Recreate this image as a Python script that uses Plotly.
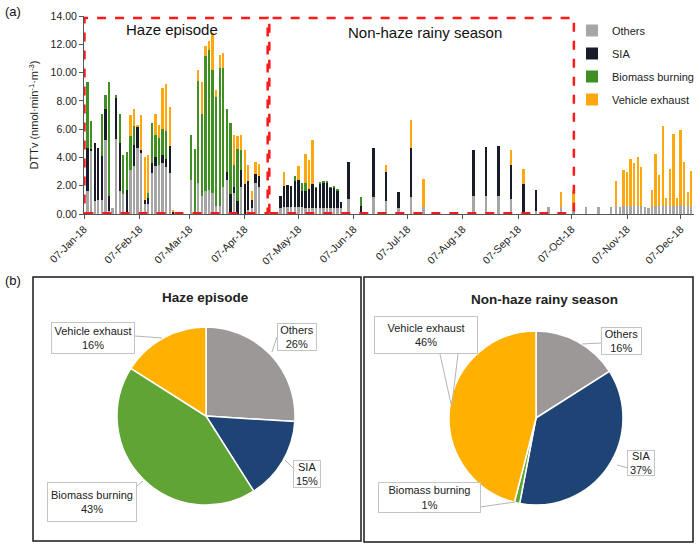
import plotly.graph_objects as go

# ---------------- data: panel (a) ----------------
dates = [
    # haze episode part 1
    "2018-01-09", "2018-01-11", "2018-01-13", "2018-01-15", "2018-01-17", "2018-01-19", "2018-01-21",
    "2018-01-23", "2018-01-25", "2018-01-27", "2018-01-29", "2018-01-31", "2018-02-02", "2018-02-04",
    "2018-02-06", "2018-02-08", "2018-02-10", "2018-02-12", "2018-02-14", "2018-02-16", "2018-02-18",
    "2018-02-20", "2018-02-22", "2018-02-24", "2018-02-26",
    # haze episode part 2
    "2018-03-08", "2018-03-10", "2018-03-12", "2018-03-14", "2018-03-16", "2018-03-18", "2018-03-20",
    "2018-03-22", "2018-03-24", "2018-03-26", "2018-03-28", "2018-03-30", "2018-04-01", "2018-04-03",
    "2018-04-05", "2018-04-07", "2018-04-09", "2018-04-11", "2018-04-13", "2018-04-15",
    # non-haze, every other day
    "2018-04-27", "2018-04-29", "2018-05-01", "2018-05-03", "2018-05-05", "2018-05-07", "2018-05-09",
    "2018-05-11", "2018-05-13", "2018-05-15", "2018-05-17", "2018-05-19", "2018-05-21", "2018-05-23",
    "2018-05-25", "2018-05-27", "2018-05-29", "2018-05-31",
    # weekly
    "2018-06-04", "2018-06-11", "2018-06-18", "2018-06-25", "2018-07-02", "2018-07-09", "2018-07-16",
    "2018-08-13", "2018-08-20", "2018-08-27", "2018-09-03", "2018-09-10", "2018-09-17", "2018-09-24",
    "2018-10-01", "2018-10-08", "2018-10-15", "2018-10-22", "2018-10-29",
    # Nov-Dec
    "2018-11-01", "2018-11-03", "2018-11-05", "2018-11-07", "2018-11-09", "2018-11-11", "2018-11-13",
    "2018-11-15", "2018-11-17", "2018-11-19", "2018-11-21", "2018-11-23", "2018-11-25", "2018-11-27",
    "2018-11-29", "2018-12-01", "2018-12-03", "2018-12-05", "2018-12-07", "2018-12-09", "2018-12-11",
    "2018-12-13",
]

others = [
    1.6, 4.5, 0.9, 1.0, 1.0, 5.2, 0.2, 0.4, 5.3, 1.6, 1.4, 0.0, 3.1, 3.4, 4.7, 4.3, 0.7, 0.7, 2.9, 3.4,
    3.5, 3.6, 3.3, 2.9, 0.0,
    2.4, 0.0, 2.2, 1.3, 1.6, 1.7, 1.5, 0.6, 0.6, 1.9, 2.4, 0.0, 1.5, 0.0, 1.9, 0.0, 0.3, 0.4, 2.2, 1.9,
    0.4, 0.5, 0.5, 0.5, 0.5, 0.5, 0.5, 0.4, 0.4, 0.4, 0.4, 0.4, 0.4, 0.4, 0.4, 0.4, 0.4, 0.4,
    1.05, 0.0, 1.2, 0.95, 0.4, 1.2, 0.5, 1.25, 1.25, 1.25, 1.05, 0.15, 0.2, 0.47, 0.47, 0.5, 0.5, 0.52,
    0.52,
    0.55, 0.47, 0.55, 0.58, 0.6, 0.6, 0.6, 0.55, 0.52, 0.45, 0.5, 0.6, 0.55, 0.62, 0.55, 0.58, 0.6,
    0.55, 0.62, 0.6, 0.55, 0.55,
]

sia = [
    3.1, 0.1, 4.1, 3.7, 3.1, 2.2, 1.1, 0.0, 2.9, 3.4, 0.0, 1.7, 0.0, 1.5, 1.5, 0.2, 0.3, 0.4, 0.7, 0.6,
    0.0, 0.6, 0.6, 1.9, 0.2,
    0.0, 0.0, 0.0, 0.0, 0.0, 0.0, 0.0, 0.0, 0.0, 0.0, 0.6, 1.4, 0.4, 0.9, 1.2, 2.1, 2.0, 0.6, 0.6, 0.8,
    0.9, 1.45, 1.55, 1.5, 1.8, 1.9, 1.15, 1.2, 1.35, 1.75, 1.45, 1.75, 1.85, 1.85, 1.45, 1.5, 1.25, 0.45,
    2.6, 0.57, 3.5, 2.05, 1.15, 3.45, 0.0, 3.25, 3.5, 3.55, 2.45, 2.0, 1.5, 0.0, 0.0, 0.0, 0.0, 0.0,
    0.0,
    0.0, 0.0, 0.0, 0.0, 0.0, 0.0, 0.0, 0.0, 0.0, 0.0, 0.0, 0.0, 0.0, 0.0, 0.0, 0.0, 0.0, 0.0, 0.0,
    0.0, 0.0, 0.0,
]

biomass = [
    4.6, 2.0, 0.0, 0.0, 3.0, 1.0, 8.0, 0.0, 0.2, 2.1, 2.8, 2.7, 2.4, 1.3, 0.0, 0.0, 0.0, 0.4, 2.8, 1.6,
    1.9, 1.8, 2.0, 0.0, 0.0,
    3.2, 4.6, 7.2, 5.8, 9.6, 9.9, 8.7, 7.7, 9.7, 8.4, 4.4, 5.0, 1.6, 3.7, 1.4, 0.0, 0.0, 0.0, 0.0, 0.0,
    0.0, 0.0, 0.0, 0.0, 0.4, 0.0, 0.55, 0.6, 0.0, 0.0, 0.05, 0.06, 0.05, 0.03, 0.03, 0.03, 0.05, 0.0,
    0.0, 0.65, 0.0, 0.0, 0.0, 0.0, 0.0, 0.0, 0.0, 0.0, 0.0, 0.0, 0.0, 0.0, 0.0, 0.0, 0.0, 0.0, 0.0,
    0.0, 0.0, 0.0, 0.0, 0.0, 0.0, 0.0, 0.0, 0.0, 0.0, 0.0, 0.0, 0.0, 0.0, 0.0, 0.0, 0.0, 0.0, 0.0,
    0.0, 0.0, 0.0,
]

vehicle = [
    0.0, 0.0, 0.0, 0.0, 0.0, 0.0, 0.0, 0.0, 0.0, 0.0, 0.0, 0.0, 1.5, 1.2, 0.1, 2.5, 3.0, 2.7, 0.0, 1.5,
    0.9, 2.9, 3.3, 2.8, 0.1,
    0.0, 0.0, 0.8, 2.2, 0.7, 0.65, 2.6, 0.45, 0.95, 1.1, 0.0, 0.0, 2.1, 0.9, 1.1, 2.4, 1.2, 0.65, 0.9, 0.85,
    0.0, 1.05, 0.0, 0.0, 0.0, 1.0, 0.0, 2.05, 2.05, 3.05, 0.0, 0.0, 0.0, 0.0, 0.0, 0.0, 0.0, 0.0,
    0.0, 0.0, 0.0, 0.45, 0.0, 2.0, 2.0, 0.0, 0.0, 0.0, 1.0, 1.05, 0.0, 0.0, 1.1, 1.2, 0.0, 0.0, 0.0,
    1.81, 0.0, 2.54, 2.42, 3.26, 2.98, 3.43, 2.8, 0.0, 0.0, 1.2, 3.62, 2.21, 5.6, 0.6, 2.58, 5.03,
    0.55, 5.32, 3.05, 1.03, 2.51,
]

tick_dates = ["2018-01-07", "2018-02-07", "2018-03-07", "2018-04-07", "2018-05-07", "2018-06-07",
              "2018-07-07", "2018-08-07", "2018-09-07", "2018-10-07", "2018-11-07", "2018-12-07"]
y_ticks = [0, 2, 4, 6, 8, 10, 12, 14]

# ---------------- data: panel (b) ----------------
pie_labels = ["Others", "SIA", "Biomass burning", "Vehicle exhaust"]
haze_share = [26, 15, 43, 16]
nonhaze_share = [16, 37, 1, 46]

# ---------------- styling ----------------
W, H = 700, 548
FONT = "Arial, Liberation Sans, sans-serif"
bar_colors = {"Others": "#a6a6a6", "SIA": "#181c28", "Biomass burning": "#3f8f22",
              "Vehicle exhaust": "#ffa70f"}
pie_colors = ["#9c9898", "#1d4474", "#5fa434", "#ffb000"]


def px(x):
    return x / W


def py(y):
    return 1 - y / H


DAY_MS = 86400000
fig = go.Figure()
for name, vals in [("Others", others), ("SIA", sia), ("Biomass burning", biomass),
                   ("Vehicle exhaust", vehicle)]:
    fig.add_trace(go.Bar(
        x=dates, y=vals, name=name, marker=dict(color=bar_colors[name], line=dict(width=0)),
        width=1.3 * DAY_MS, legendgroup=name, xaxis="x", yaxis="y",
    ))

fig.add_trace(go.Pie(
    labels=pie_labels, values=haze_share, sort=False, direction="clockwise", rotation=0,
    marker=dict(colors=pie_colors, line=dict(color="white", width=1.5)),
    textinfo="none", showlegend=False, hoverinfo="label+percent",
    domain=dict(x=[px(117), px(295)], y=[py(505), py(327)]),
))
fig.add_trace(go.Pie(
    labels=pie_labels, values=nonhaze_share, sort=False, direction="clockwise", rotation=0,
    marker=dict(colors=pie_colors, line=dict(color="white", width=1.5)),
    textinfo="none", showlegend=False, hoverinfo="label+percent",
    domain=dict(x=[px(449), px(623)], y=[py(505), py(331)]),
))

shapes = []
# red dashed period boxes
for x0, x1 in [("2018-01-07 06:00", "2018-04-19 20:00"), ("2018-04-20 18:00", "2018-10-08 06:00")]:
    shapes.append(dict(type="rect", xref="x", yref="y", x0=x0, x1=x1, y0=0.05, y1=13.85,
                       line=dict(color="#ff1a1a", width=2.5, dash="dash"), layer="above"))
# panel (b) frames
shapes.append(dict(type="rect", xref="paper", yref="paper", x0=px(33), x1=px(361), y0=py(541), y1=py(277),
                   line=dict(color="#1a1a1a", width=1.5)))
shapes.append(dict(type="rect", xref="paper", yref="paper", x0=px(364), x1=px(693), y0=py(542), y1=py(277),
                   line=dict(color="#1a1a1a", width=1.5)))
# callout leader lines
leaders = [
    (135, 336, 162, 338), (277, 337, 272, 352), (293, 468, 285, 460), (137, 486, 143, 481),
    (440, 354, 451, 404), (458, 354, 452, 404), (601, 343, 582, 344), (628, 468, 617, 465),
    (480, 507, 515, 502),
]
for x0, y0, x1, y1 in leaders:
    shapes.append(dict(type="line", xref="paper", yref="paper", x0=px(x0), y0=py(y0), x1=px(x1), y1=py(y1),
                       line=dict(color="#b5b5b5", width=1)))

annotations = [
    dict(text="(a)", x=px(13), y=py(12), xanchor="center", yanchor="middle", font=dict(size=13, color="#111")),
    dict(text="(b)", x=px(13), y=py(280), xanchor="center", yanchor="middle", font=dict(size=13, color="#111")),
    dict(text="Haze episode", x=px(172), y=py(29), xanchor="center", yanchor="middle",
         font=dict(size=15, color="#111")),
    dict(text="Non-haze rainy season", x=px(425), y=py(32), xanchor="center", yanchor="middle",
         font=dict(size=15, color="#111")),
    dict(text="<b>Haze episode</b>", x=px(206), y=py(298), xanchor="center", yanchor="middle",
         font=dict(size=13.5, color="#222")),
    dict(text="<b>Non-haze rainy season</b>", x=px(544), y=py(299), xanchor="center", yanchor="middle",
         font=dict(size=13.5, color="#222")),
]
callouts = [
    ("Vehicle exhaust<br>16%", 93, 338, 80, 28),
    ("Others<br>26%", 297, 337, 36, 24),
    ("SIA<br>15%", 307, 474, 24, 24),
    ("Biomass burning<br>43%", 92, 502, 86, 36),
    ("Vehicle exhaust<br>46%", 426, 335, 100, 34),
    ("Others<br>16%", 621, 341, 37, 24),
    ("SIA<br>37%", 641, 463, 24, 22),
    ("Biomass burning<br>1%", 429, 498, 99, 27),
]
for txt, cx, cy, w, h in callouts:
    annotations.append(dict(text=txt, x=px(cx), y=py(cy), xanchor="center", yanchor="middle",
                            width=w, height=h, align="center", valign="middle",
                            bgcolor="white", bordercolor="#c4c4c4", borderwidth=1, borderpad=1,
                            font=dict(size=11, color="#222")))
for a in annotations:
    a.setdefault("xref", "paper")
    a.setdefault("yref", "paper")
    a.setdefault("showarrow", False)

fig.update_layout(
    width=W, height=H, margin=dict(l=0, r=0, t=0, b=0, autoexpand=False),
    paper_bgcolor="white", plot_bgcolor="white",
    font=dict(family=FONT, size=11, color="#222"),
    barmode="stack", bargap=0,
    xaxis=dict(type="date", domain=[px(84), px(694)], anchor="y", automargin=False,
               range=["2018-01-07", "2018-12-14 12:00"],
               tickvals=tick_dates, tickformat="%d-%b-%y", tickangle=-45,
               tickfont=dict(size=10.5, color="#222"),
               ticks="outside", ticklen=4, tickcolor="#555",
               showline=True, linecolor="#555", linewidth=1, showgrid=False, zeroline=False),
    yaxis=dict(domain=[py(214), py(16)], anchor="x", range=[0, 14], tickvals=y_ticks, automargin=False,
               tickformat=".2f", tickfont=dict(size=10.5, color="#222"),
               ticks="outside", ticklen=4, tickcolor="#555",
               showline=True, linecolor="#555", linewidth=1, showgrid=False, zeroline=False,
               title=dict(text="DTTv (nmol·min<sup>-1</sup>·m<sup>-3</sup>)", font=dict(size=11, color="#222"),
                          standoff=9)),
    legend=dict(x=px(572), y=py(16), xanchor="left", yanchor="top", traceorder="grouped",
                font=dict(size=11, color="#222"), bgcolor="rgba(0,0,0,0)", tracegroupgap=4,
                itemwidth=30),
    shapes=shapes, annotations=annotations,
)

fig.write_html("out.html", post_script="document.body.style.margin='0';",
               config={"displayModeBar": False})
